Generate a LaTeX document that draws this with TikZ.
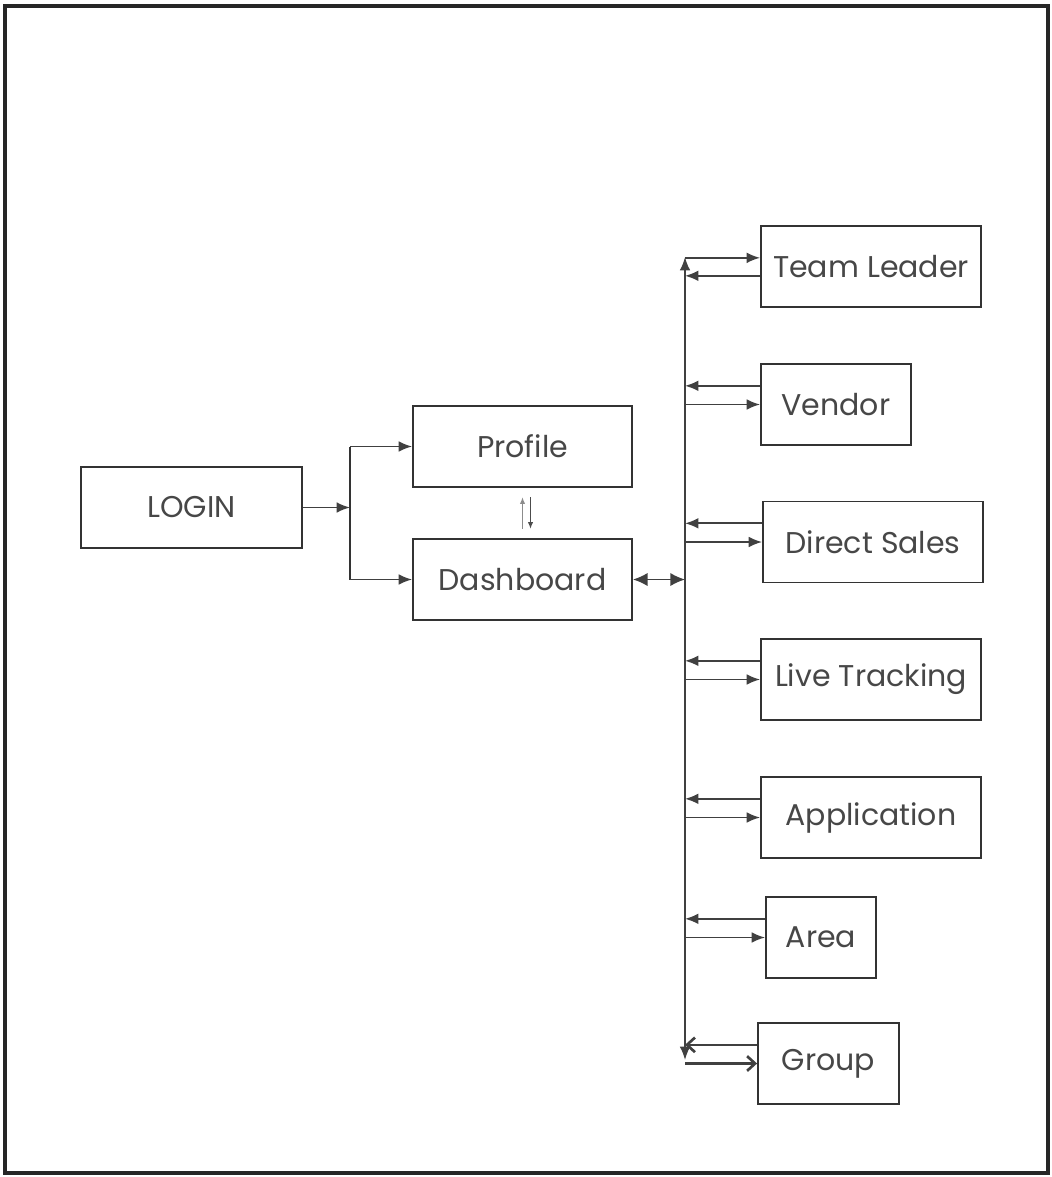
\documentclass[tikz,border=0pt]{standalone}
\usepackage{fontspec}
\setmainfont{Poppins}
\usetikzlibrary{arrows.meta}
\tikzset{
  box/.style={draw=black!80,line width=1.4pt,minimum height=60.75pt,inner sep=0pt,
    font=\fontsize{22.5}{26}\selectfont,text=black!72},
  arr/.style={draw=black!75,line width=1.3pt,-{Latex[length=10pt,width=8pt]}},
  barb/.style={draw=black!75,line width=2pt,-{Straight Barb[length=6pt,width=11pt]}},
}
\begin{document}
\begin{tikzpicture}[x=0.75pt,y=-0.75pt]
\useasboundingbox (0,0) rectangle (1052,1177);
\draw[line width=3pt,black!85] (5,6) rectangle (1048,1173);
% left part
\node[box,minimum width=165.75pt] (login) at (191.5,507.5) {LOGIN};
\node[box,minimum width=164.25pt] (profile) at (522.5,446.5) {Profile};
\node[box,minimum width=164.25pt] (dash) at (522.5,579.5) {Dashboard};
\coordinate (jn) at (350,507.5);
\draw[arr] (login.east) -- (jn);
\draw[black!80,line width=2pt] (jn |- profile.west) -- (jn |- dash.west);
\draw[arr] (jn |- profile.west) -- (profile.west);
\draw[arr] (jn |- dash.west) -- (dash.west);
\draw[arr,black!45,line width=.7pt,-{Latex[length=5pt,width=4pt]},shorten <=7pt,shorten >=7pt]
  (dash.north) -- (profile.south);
\draw[arr,black!70,line width=.7pt,-{Latex[length=5pt,width=4pt]},shorten <=7pt,shorten >=7pt]
  ([xshift=6pt]profile.south) -- ([xshift=6pt]dash.north);
% bus
\coordinate (busT) at (685,257);
\coordinate (busB) at (685,1060);
\draw[arr,{Latex[length=10pt,width=8pt]}-{Latex[length=10pt,width=8pt]}] (busT) -- (busB);
\draw[arr,{Latex[length=11pt,width=10pt]}-{Latex[length=11pt,width=10pt]}] (dash.east) -- (dash.east -| busT);
% right part
\node[box,minimum width=165pt] (lead) at (871,266.5) {Team Leader};
\foreach \nm/\txt/\cx/\cy/\bw in {vendor/Vendor/836/404.5/112.5,
    sales/Direct Sales/873/542/165,
    track/Live Tracking/871/679.5/165,
    app/Application/871/817.5/165,
    area/Area/821/937.5/82.5}
  {
  \node[box,minimum width=\bw pt] (\nm) at (\cx,\cy) {\txt};
  \draw[arr] ([yshift=14pt]\nm.west) -- ([yshift=14pt]busT |- \nm.west);
  \draw[arr] (busT |- \nm.west) -- (\nm.west);
  }
\draw[arr] ([yshift=6.5pt]busT |- lead.west) -- ([yshift=6.5pt]lead.west);
\draw[arr] ([yshift=-7pt]lead.west) -- ([yshift=-7pt]busT |- lead.west);
\node[box,minimum width=105.75pt] (group) at (828.5,1063.5) {Group};
\draw[barb] ([yshift=14pt]group.west) -- ([yshift=14pt]busT |- group.west);
\draw[barb] (busT |- group.west) -- (group.west);
\end{tikzpicture}
\end{document}
